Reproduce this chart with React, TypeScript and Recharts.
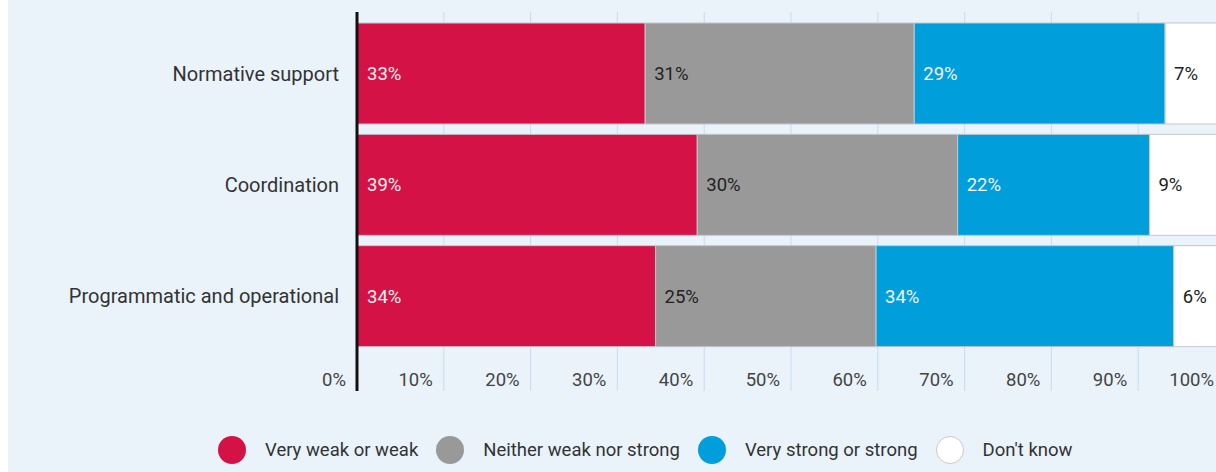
import { BarChart, Bar, XAxis, YAxis, CartesianGrid, Legend, LabelList } from 'recharts'

const categories = ['Normative support', 'Coordination', 'Programmatic and operational']
const seriesNames = ['Very weak or weak', 'Neither weak nor strong', 'Very strong or strong', "Don't know"]
const veryWeak = [33.2, 39.2, 34.4]
const neither = [31.0, 30.0, 25.4]
const strong = [28.9, 22.1, 34.3]
const dontKnow = [6.9, 8.7, 5.9]
const xTicks = [0, 10, 20, 30, 40, 50, 60, 70, 80, 90, 100]

const data = categories.map((name, i) => ({
  name,
  weak: veryWeak[i],
  neither: neither[i],
  strong: strong[i],
  dontKnow: dontKnow[i],
}))

const pct = (v: any) => `${Math.round(Number(v))}%`

function XTick({ x, y, payload }: any) {
  return (
    <text x={x - 11} y={y - 12} dy="0.355em" textAnchor="end" fill="#444" fontSize={18.5}>
      {payload.value}%
    </text>
  )
}

function LegendContent({ payload }: any) {
  const items = [...(payload || [])].sort(
    (a: any, b: any) => seriesNames.indexOf(a.value) - seriesNames.indexOf(b.value)
  )
  return (
    <div style={{ display: 'flex', alignItems: 'center', fontSize: 18.5, color: '#333', whiteSpace: 'nowrap' }}>
      {items.map((entry: any, i: number) => (
        <div key={i} style={{ display: 'flex', alignItems: 'center', marginRight: 18 }}>
          <span
            style={{
              display: 'inline-block',
              width: 28,
              height: 28,
              borderRadius: '50%',
              background: entry.color,
              border: entry.color === '#ffffff' ? '1px solid #c9c9c9' : 'none',
              boxSizing: 'border-box',
              marginRight: 19,
            }}
          />
          <span>{entry.value}</span>
        </div>
      ))}
    </div>
  )
}

export default function App() {
  return (
    <div
      style={{
        position: 'absolute',
        top: 0,
        left: 8,
        width: 1208,
        height: 472,
        overflow: 'hidden',
        background: '#eaf2fa',
        fontFamily: 'Roboto, sans-serif',
      }}
    >
      <BarChart
        width={1240}
        height={472}
        data={data}
        layout="vertical"
        margin={{ top: 12, right: 23, left: 0, bottom: 80 }}
        barSize={101}
      >
        <CartesianGrid horizontal={false} stroke="#c6ddef" />
        <XAxis
          type="number"
          domain={[0, 100]}
          ticks={xTicks}
          interval={0}
          height={1}
          tickSize={0}
          tickMargin={0}
          axisLine={false}
          tickLine={false}
          tick={<XTick />}
        />
        <YAxis
          type="category"
          dataKey="name"
          width={349}
          tickSize={0}
          tickMargin={18}
          tickLine={false}
          axisLine={{ stroke: '#111', strokeWidth: 3 }}
          padding={{ top: 6, bottom: 39 }}
          tick={{ fill: '#333', fontSize: 20 }}
        />
        <Legend
          layout="vertical"
          verticalAlign="middle"
          align="center"
          content={<LegendContent />}
          wrapperStyle={{ left: 210, top: 436, width: 1000, height: 28 }}
        />
        <Bar dataKey="weak" name={seriesNames[0]} stackId="a" fill="#d41245" stroke="#c3c7cd" strokeWidth={1} isAnimationActive={false}>
          <LabelList dataKey="weak" position="insideLeft" offset={10} fill="#f4f4f4" fontSize={18.5} formatter={pct} />
        </Bar>
        <Bar dataKey="neither" name={seriesNames[1]} stackId="a" fill="#999999" stroke="#c3c7cd" strokeWidth={1} isAnimationActive={false}>
          <LabelList dataKey="neither" position="insideLeft" offset={9} fill="#222" fontSize={18.5} formatter={pct} />
        </Bar>
        <Bar dataKey="strong" name={seriesNames[2]} stackId="a" fill="#009fdc" stroke="#c3c7cd" strokeWidth={1} isAnimationActive={false}>
          <LabelList dataKey="strong" position="insideLeft" offset={9} fill="#f4f4f4" fontSize={18.5} formatter={pct} />
        </Bar>
        <Bar dataKey="dontKnow" name={seriesNames[3]} stackId="a" fill="#ffffff" stroke="#c3c7cd" strokeWidth={1} isAnimationActive={false}>
          <LabelList dataKey="dontKnow" position="insideLeft" offset={9} fill="#222" fontSize={18.5} formatter={pct} />
        </Bar>
      </BarChart>
    </div>
  )
}
